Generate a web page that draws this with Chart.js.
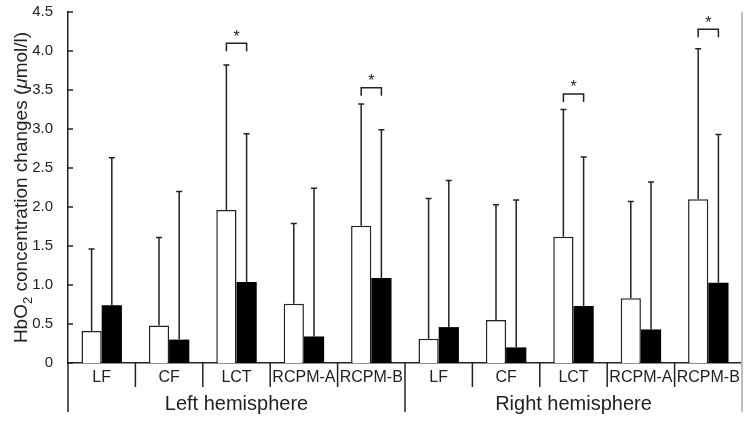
<!DOCTYPE html>
<html>
<head>
<meta charset="utf-8">
<script src="https://cdn.jsdelivr.net/npm/chart.js@4.4.0/dist/chart.umd.min.js"></script>
<style>
  html, body { margin: 0; padding: 0; background: #fff; }
  #wrap { width: 750px; height: 425px; }
</style>
</head>
<body>
<div id="wrap"><canvas id="chart" width="750" height="425"></canvas></div>
<script>
// values
const categories = ['LF', 'CF', 'LCT', 'RCPM-A', 'RCPM-B', 'LF', 'CF', 'LCT', 'RCPM-A', 'RCPM-B'];
const hemispheres = ['Left hemisphere', 'Right hemisphere'];
const whiteMeans = [0.41, 0.48, 1.96, 0.76, 1.76, 0.31, 0.55, 1.62, 0.83, 2.10];
const whiteErrTop = [1.46, 1.61, 3.82, 1.79, 3.32, 2.11, 2.03, 3.25, 2.07, 4.03];
const blackMeans = [0.74, 0.30, 1.04, 0.34, 1.09, 0.46, 0.20, 0.73, 0.43, 1.03];
const blackErrTop = [2.63, 2.20, 2.94, 2.24, 2.99, 2.34, 2.09, 2.64, 2.32, 2.93];
const sigIndex = [2, 4, 7, 9];
const sigHeight = [4.10, 3.53, 3.45, 4.28];

const FONT = '"Liberation Sans", Arial, Helvetica, sans-serif';
const INK = '#222';

const overlay = {
  id: 'overlay',
  afterDraw(chart) {
    const ctx = chart.ctx;
    const x = chart.scales.x;
    const y = chart.scales.y;
    const area = chart.chartArea;
    const m0 = chart.getDatasetMeta(0);
    const m1 = chart.getDatasetMeta(1);
    ctx.save();
    ctx.strokeStyle = INK;
    ctx.fillStyle = INK;
    ctx.lineWidth = 1.5;

    // error bars (upper only)
    function errBar(px, from, to) {
      const y0 = y.getPixelForValue(from);
      const y1 = y.getPixelForValue(to);
      ctx.beginPath();
      ctx.moveTo(px, y0);
      ctx.lineTo(px, y1);
      ctx.moveTo(px - 3, y1);
      ctx.lineTo(px + 3, y1);
      ctx.stroke();
    }
    for (let i = 0; i < categories.length; i++) {
      errBar(m0.data[i].x, whiteMeans[i], whiteErrTop[i]);
      errBar(m1.data[i].x, blackMeans[i], blackErrTop[i]);
    }

    // significance brackets
    ctx.font = '16px ' + FONT;
    ctx.textAlign = 'center';
    ctx.textBaseline = 'middle';
    sigIndex.forEach((ci, k) => {
      const xa = m0.data[ci].x;
      const xb = m1.data[ci].x;
      const yt = y.getPixelForValue(sigHeight[k]);
      ctx.beginPath();
      ctx.moveTo(xa, yt + 8);
      ctx.lineTo(xa, yt);
      ctx.lineTo(xb, yt);
      ctx.lineTo(xb, yt + 8);
      ctx.stroke();
      ctx.fillText('*', (xa + xb) / 2, yt - 6);
    });

    // inward y ticks
    y.ticks.forEach(t => {
      const py = y.getPixelForValue(t.value);
      ctx.beginPath();
      ctx.moveTo(area.left, py);
      ctx.lineTo(area.left + 5, py);
      ctx.stroke();
    });

    // category separators and hemisphere separators
    const bottom = area.bottom;
    const bounds = [];
    for (let i = 0; i <= categories.length; i++) {
      if (i === 0) bounds.push(area.left);
      else if (i === categories.length) bounds.push(area.right);
      else bounds.push((x.getPixelForValue(i - 1) + x.getPixelForValue(i)) / 2);
    }
    bounds.forEach((bx, i) => {
      const major = i % 5 === 0;
      ctx.strokeStyle = i === categories.length ? '#bdbdbd' : INK;
      ctx.lineWidth = i === categories.length ? 2 : 1.5;
      ctx.beginPath();
      ctx.moveTo(bx, bottom);
      ctx.lineTo(bx, bottom + (major ? 49 : 24));
      ctx.stroke();
    });
    // grey frame line on the right
    ctx.strokeStyle = '#bdbdbd';
    ctx.lineWidth = 2;
    ctx.beginPath();
    ctx.moveTo(area.right, area.top);
    ctx.lineTo(area.right, bottom);
    ctx.stroke();

    // category labels
    ctx.fillStyle = INK;
    ctx.textBaseline = 'middle';
    ctx.textAlign = 'center';
    ctx.font = '16px ' + FONT;
    categories.forEach((c, i) => {
      ctx.fillText(c, x.getPixelForValue(i), bottom + 15);
    });

    // hemisphere labels
    ctx.font = '20px ' + FONT;
    hemispheres.forEach((h, k) => {
      ctx.fillText(h, (bounds[k * 5] + bounds[k * 5 + 5]) / 2, bottom + 41);
    });

    // y axis title with subscript and italic mu
    const parts = [
      { t: 'HbO', f: '19px ' + FONT, dy: 0 },
      { t: '2', f: '13px ' + FONT, dy: 6 },
      { t: ' concentration changes (', f: '19px ' + FONT, dy: 0 },
      { t: '\u03bc', f: 'italic 19px ' + FONT, dy: 0 },
      { t: 'mol/l)', f: '19px ' + FONT, dy: 0 }
    ];
    let total = 0;
    parts.forEach(p => { ctx.font = p.f; p.w = ctx.measureText(p.t).width; total += p.w; });
    ctx.translate(22, (area.top + area.bottom) / 2);
    ctx.rotate(-Math.PI / 2);
    ctx.textAlign = 'left';
    let cx = -total / 2;
    parts.forEach(p => {
      ctx.font = p.f;
      ctx.fillText(p.t, cx, p.dy);
      cx += p.w;
    });
    ctx.restore();
  }
};

new Chart(document.getElementById('chart'), {
  type: 'bar',
  data: {
    labels: categories,
    datasets: [
      {
        label: 'white',
        data: whiteMeans,
        backgroundColor: '#ffffff',
        borderColor: INK,
        borderWidth: 1.5,
        borderSkipped: 'bottom'
      },
      {
        label: 'black',
        data: blackMeans,
        backgroundColor: '#000000',
        borderColor: '#000000',
        borderWidth: 0
      }
    ]
  },
  options: {
    responsive: false,
    animation: false,
    devicePixelRatio: 1,
    categoryPercentage: 0.6,
    barPercentage: 1.0,
    layout: { padding: { top: 12, right: 8, left: 0, bottom: 0 } },
    plugins: {
      legend: { display: false },
      tooltip: { enabled: false }
    },
    scales: {
      x: {
        grid: { display: false },
        border: { display: true, color: INK, width: 1.5 },
        ticks: { display: false },
        afterFit(s) { s.height = 62; }
      },
      y: {
        min: 0,
        max: 4.5,
        grid: { display: false },
        border: { display: true, color: INK, width: 1.5 },
        ticks: {
          stepSize: 0.5,
          color: INK,
          font: { family: FONT, size: 15 },
          padding: 7,
          callback: v => (v === 0 ? '0' : v.toFixed(1))
        },
        afterFit(s) { s.width = 68; s.paddingTop = 0; s.paddingBottom = 0; }
      }
    }
  },
  plugins: [overlay]
});
</script>
</body>
</html>
